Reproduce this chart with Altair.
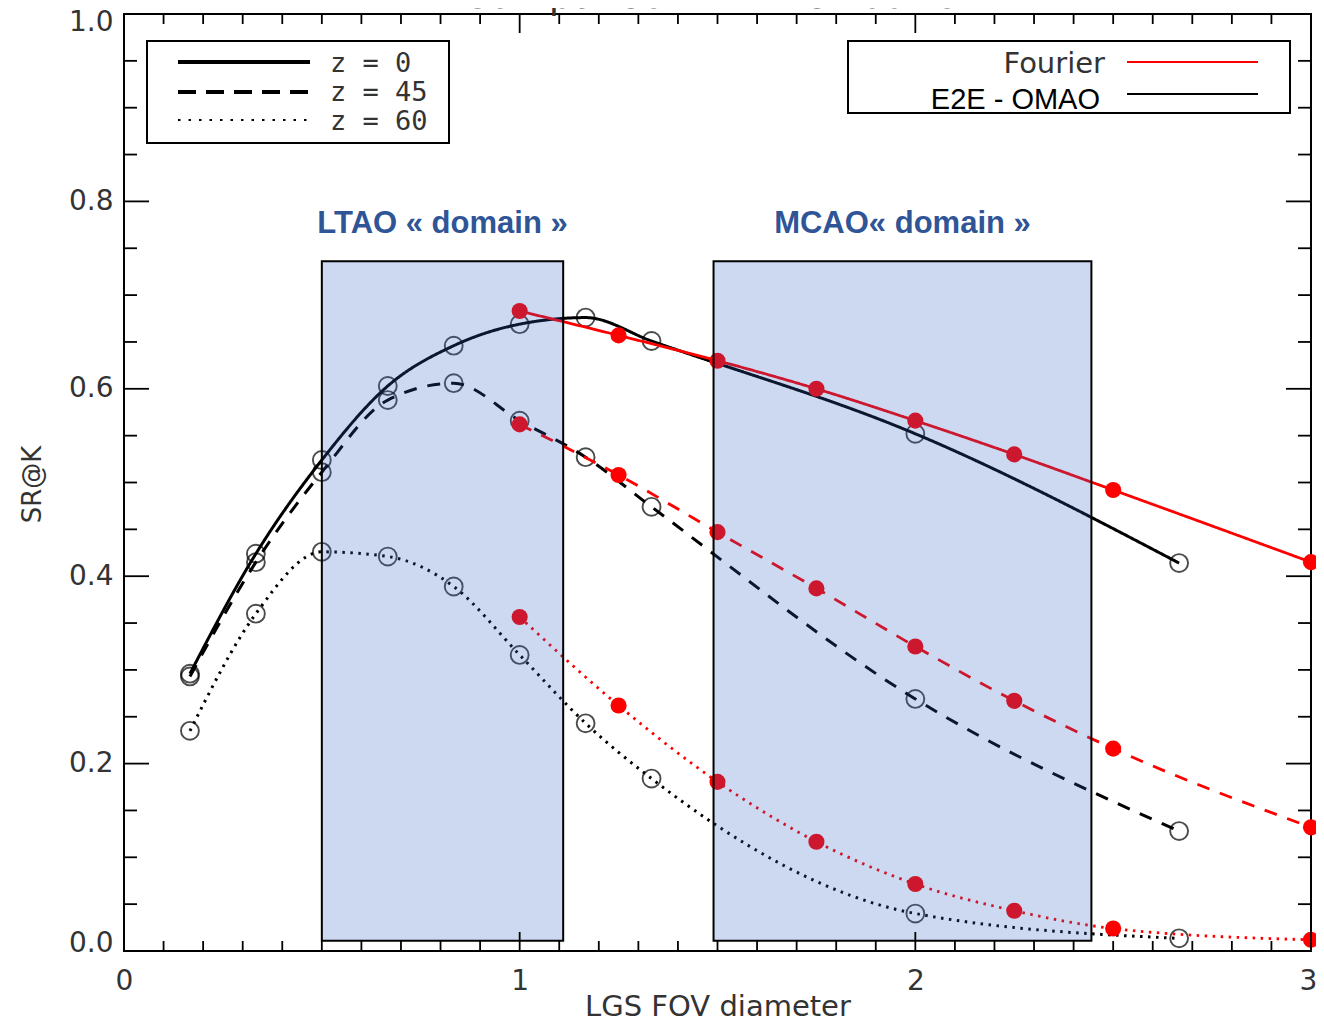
import altair as alt
import pandas as pd

# ---------------- data ----------------
e2e_x = [1/6, 1/3, 1/2, 2/3, 5/6, 1.0, 7/6, 4/3, 2.0, 8/3]
e2e_z0 = [0.296, 0.424, 0.524, 0.603, 0.646, 0.669, 0.676, 0.651, 0.552, 0.414]
e2e_z45 = [0.293, 0.415, 0.511, 0.588, 0.606, 0.566, 0.527, 0.474, 0.269, 0.128]
e2e_z60 = [0.235, 0.360, 0.426, 0.421, 0.389, 0.316, 0.243, 0.184, 0.040, 0.0135]

four_x = [1.0, 1.25, 1.5, 1.75, 2.0, 2.25, 2.5, 3.0]
four_z0 = [0.683, 0.657, 0.630, 0.600, 0.566, 0.530, 0.492, 0.415]
four_z45 = [0.562, 0.508, 0.447, 0.387, 0.325, 0.267, 0.216, 0.132]
four_z60 = [0.3565, 0.262, 0.1805, 0.1166, 0.0715, 0.043, 0.024, 0.012]

zenith = ["0", "45", "60"]

domain_names = ["LTAO « domain »", "MCAO« domain »"]
domain_x0 = [0.5, 1.49]
domain_x1 = [1.11, 2.445]
domain_y0 = [0.011, 0.011]
domain_y1 = [0.736, 0.736]

x_labels = [0, 1, 2, 3]
y_labels = [0.0, 0.2, 0.4, 0.6, 0.8, 1.0]
x_minor = [i / 10 for i in range(1, 30) if i % 10]
y_minor = [i / 20 for i in range(1, 20) if i % 4]

# ---------------- tables ----------------
rows = []
for z, vals in zip(zenith, [e2e_z0, e2e_z45, e2e_z60]):
    for xv, yv in zip(e2e_x, vals):
        rows.append({"src": "E2E", "z": z, "x": xv, "y": yv})
e2e = pd.DataFrame(rows)
rows = []
for z, vals in zip(zenith, [four_z0, four_z45, four_z60]):
    for xv, yv in zip(four_x, vals):
        rows.append({"src": "Fourier", "z": z, "x": xv, "y": yv})
four = pd.DataFrame(rows)
doms = pd.DataFrame({"name": domain_names, "x0": domain_x0, "x1": domain_x1,
                     "y0": domain_y0, "y1": domain_y1})
doms["xc"] = (doms["x0"] + doms["x1"]) / 2
doms["yt"] = 0.766
one = pd.DataFrame({"k": [0]})

W, H = 1187, 937
IDL_FONT = "DejaVu Sans"
TXT = "#333333"

xs = alt.Scale(domain=[0, 3], nice=False, zero=False)
ys = alt.Scale(domain=[0, 1], nice=False, zero=False)

x_axis = alt.Axis(values=x_labels, format="d", ticks=False, tickSize=0, domain=False,
                  grid=False, labelFlush=False, labelOverlap=False, labelPadding=16,
                  labelOffset={"condition": {"test": "datum.value == 3", "value": -3}, "value": 0},
                  labelFont=IDL_FONT, labelFontSize=28, labelColor=TXT,
                  title="LGS FOV diameter", titleFont=IDL_FONT, titleFontSize=29,
                  titleFontWeight="normal", titleColor=TXT, titleX=W / 2, titleY=64,
                  titleBaseline="alphabetic", titleAlign="center")
y_axis = alt.Axis(values=y_labels, format=".1f", ticks=False, tickSize=0, domain=False,
                  grid=False, labelFlush=False, labelOverlap=False, labelPadding=11,
                  labelOffset={"condition": [{"test": "datum.value == 0", "value": -8},
                                             {"test": "datum.value == 1", "value": 8}],
                               "value": 0},
                  labelFont=IDL_FONT, labelFontSize=28, labelColor=TXT,
                  title="SR@K", titleFont=IDL_FONT, titleFontSize=26,
                  titleFontWeight="normal", titleColor=TXT, titleX=-92, titleY=470,
                  titleAngle=270, titleBaseline="middle", titleAlign="center")

dash_scale = alt.Scale(domain=zenith, range=[[1, 0], [13, 11], [2.5, 5.5]])

X = lambda f="x": alt.X(f"{f}:Q", scale=xs, axis=x_axis)
Y = lambda f="y": alt.Y(f"{f}:Q", scale=ys, axis=y_axis)

e2e_lines = alt.Chart(e2e).mark_line(interpolate="monotone", color="black", strokeWidth=3).encode(
    x=X(), y=Y(),
    strokeDash=alt.StrokeDash("z:N", scale=dash_scale, legend=None),
    detail="z:N",
)
e2e_pts = alt.Chart(e2e).mark_point(shape="circle", filled=False, size=320, strokeWidth=1.9,
                                    color="black").encode(x=X(), y=Y())
four_lines = alt.Chart(four).mark_line(interpolate="monotone", color="#ff0000", strokeWidth=2.8).encode(
    x=X(), y=Y(),
    strokeDash=alt.StrokeDash("z:N", scale=dash_scale, legend=None),
    detail="z:N",
)
four_pts = alt.Chart(four).mark_circle(size=260, color="#ff0000", opacity=1).encode(x=X(), y=Y())

rects = alt.Chart(doms).mark_rect(fill="#2a61c0", fillOpacity=0.24, stroke="black",
                                  strokeWidth=2, strokeOpacity=1).encode(
    x=X("x0"), x2="x1", y=Y("y0"), y2="y1")
dom_text = alt.Chart(doms).mark_text(font="Liberation Sans", fontWeight="bold", fontSize=31,
                                     color="#2F5597", align="center",
                                     baseline="alphabetic").encode(
    x=X("xc"), y=Y("yt"), text="name:N")

# ---------------- inward ticks on all four sides ----------------
def xticks(vals, length):
    d = pd.DataFrame({"v": vals})
    b = alt.Chart(d).mark_rule(color="black", strokeWidth=1.8).encode(
        x=X("v"), y=alt.value(H), y2=alt.value(H - length))
    t = alt.Chart(d).mark_rule(color="black", strokeWidth=1.8).encode(
        x=X("v"), y=alt.value(0), y2=alt.value(length))
    return [b, t]

def yticks(vals, length):
    d = pd.DataFrame({"v": vals})
    l = alt.Chart(d).mark_rule(color="black", strokeWidth=1.8).encode(
        y=Y("v"), x=alt.value(0), x2=alt.value(length))
    r = alt.Chart(d).mark_rule(color="black", strokeWidth=1.8).encode(
        y=Y("v"), x=alt.value(W), x2=alt.value(W - length))
    return [l, r]

ticks = xticks(x_minor, 10) + xticks(x_labels, 19) + yticks(y_minor, 13) + yticks(y_labels, 25)

# ---------------- legends (drawn) ----------------
def vtext(text, x, y, **kw):
    return alt.Chart(one).mark_text(**kw).encode(x=alt.value(x), y=alt.value(y), text=alt.value(text))

def vline(x1, x2, y, **kw):
    return alt.Chart(one).mark_rule(**kw).encode(x=alt.value(x1), x2=alt.value(x2), y=alt.value(y))

def vbox(x1, x2, y1, y2):
    return alt.Chart(one).mark_rect(fill="white", stroke="black", strokeWidth=2).encode(
        x=alt.value(x1), x2=alt.value(x2), y=alt.value(y1), y2=alt.value(y2))

MONO = dict(font="DejaVu Sans Mono", fontSize=27, color=TXT, align="left", baseline="alphabetic")
leg = [
    vbox(23, 325, 27, 129),
    vline(54, 186, 48, color="black", strokeWidth=4),
    vline(54, 186, 78, color="black", strokeWidth=4, strokeDash=[18, 10]),
    vline(54, 186, 106, color="black", strokeWidth=2, strokeDash=[2.5, 8]),
    vtext("z = 0", 206, 58, **MONO),
    vtext("z = 45", 206, 87, **MONO),
    vtext("z = 60", 206, 116, **MONO),
    vbox(724, 1166, 27, 99),
    vtext("Fourier", 981, 59, font=IDL_FONT, fontSize=29, color=TXT, align="right", baseline="alphabetic"),
    vline(1003, 1134, 48, color="#ff0000", strokeWidth=2),
    vline(1003, 1134, 80, color="black", strokeWidth=2),
    vtext("E2E - OMAO", 976, 95, font="Liberation Sans", fontSize=29, color="black", align="right", baseline="alphabetic"),
    vtext("Comparison E2E vs Fourier", W / 2, -6, font=IDL_FONT, fontSize=38, color=TXT, align="center", baseline="alphabetic"),
]

chart = alt.layer(
    e2e_lines, e2e_pts, four_lines, four_pts, rects, dom_text, *ticks, *leg
).properties(
    width=W, height=H,
    autosize=alt.AutoSizeParams(type="none"),
    padding={"left": 116, "top": 6, "right": 5, "bottom": 71},
).configure_view(stroke="black", strokeWidth=2)

chart.save("out.html", embed_options={"renderer": "svg", "actions": False})
